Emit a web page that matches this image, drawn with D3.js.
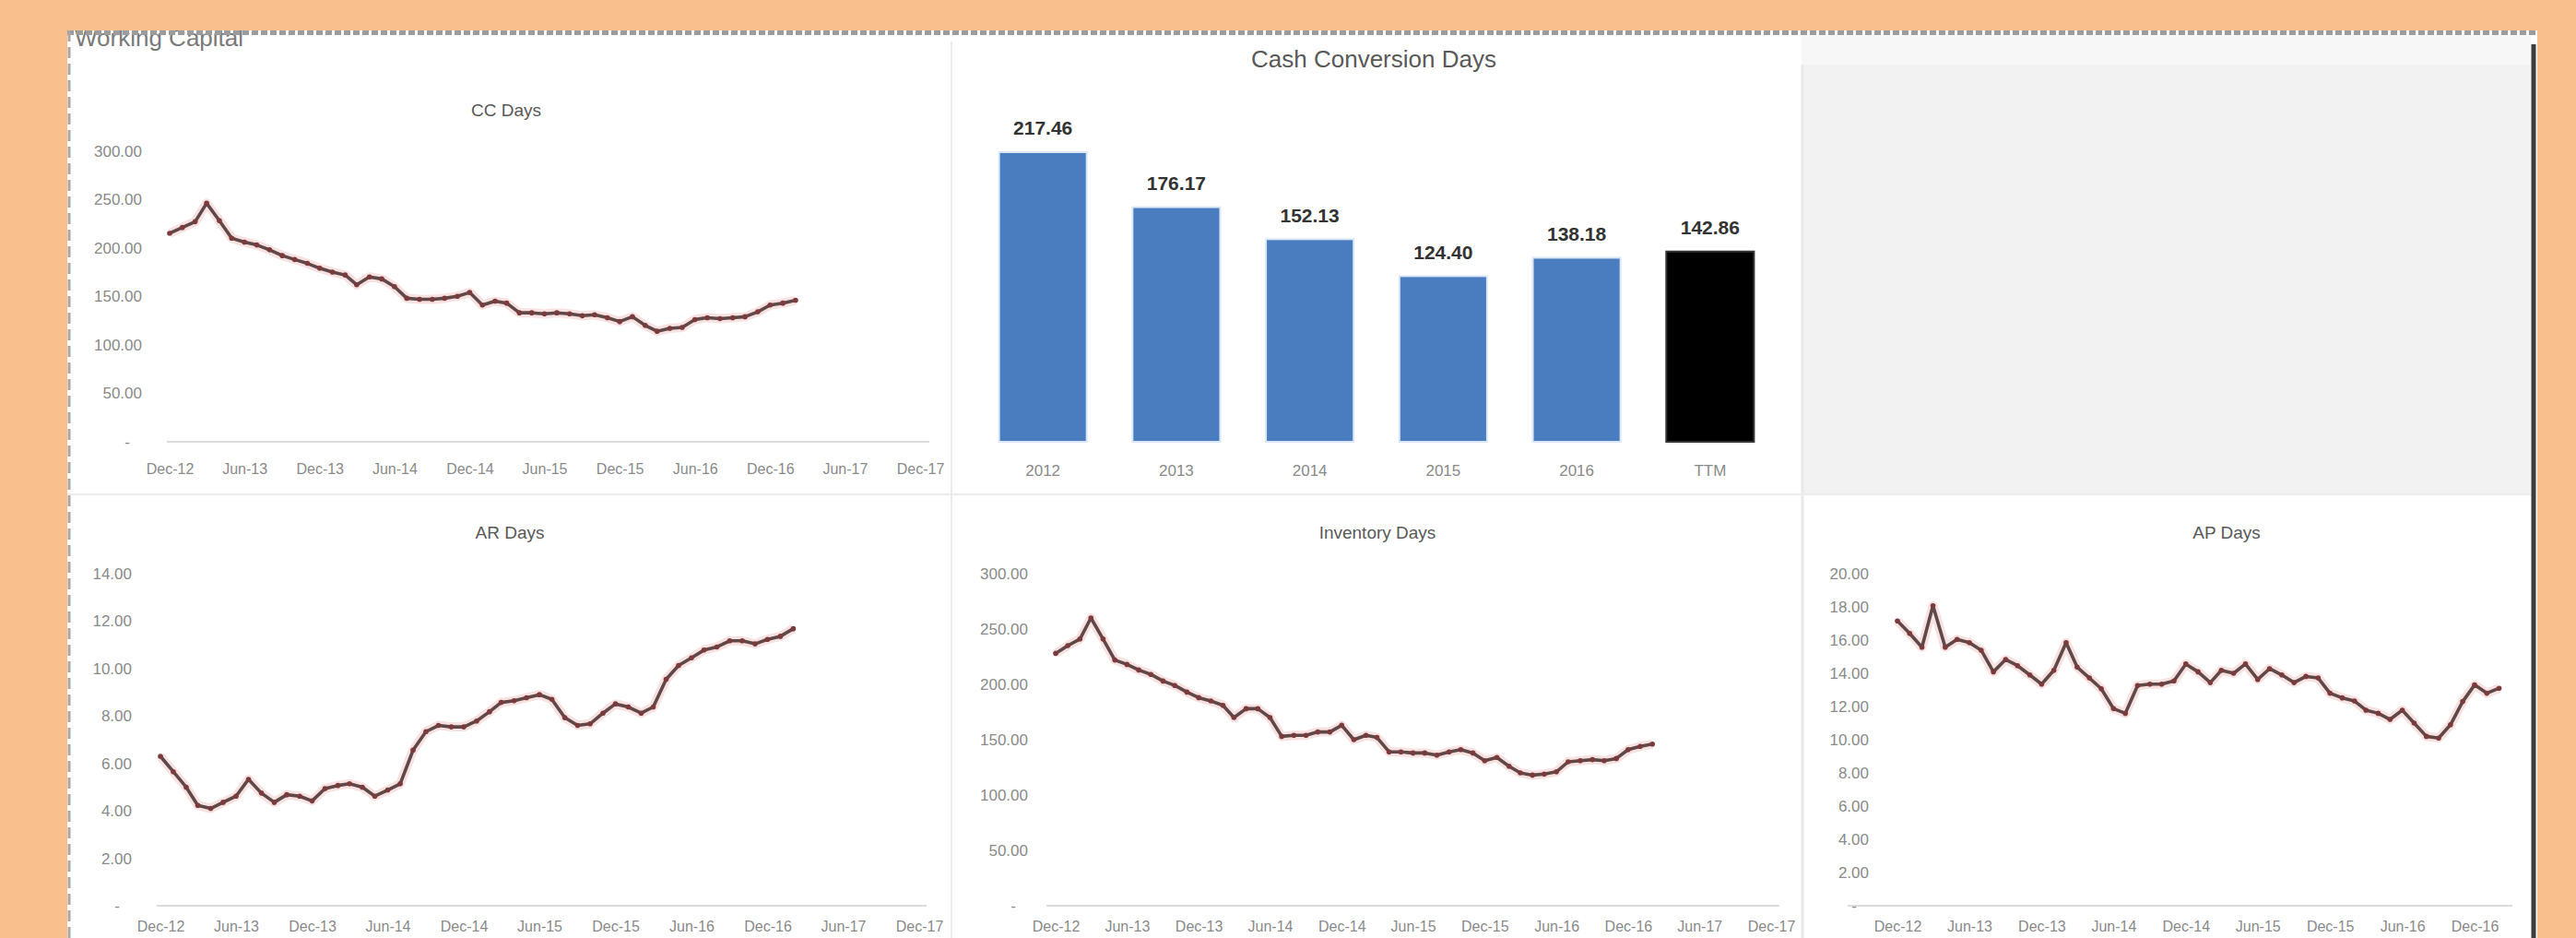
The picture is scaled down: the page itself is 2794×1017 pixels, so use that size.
<!DOCTYPE html>
<html>
<head>
<meta charset="utf-8">
<script src="https://cdn.jsdelivr.net/npm/d3@7"></script>
<style>
  body { margin: 0; background: #f9c08e; }
  svg { display: block; font-family: "Liberation Sans", Arial, sans-serif; }
  .tick text { fill: #8a8a8a; }
</style>
</head>
<body>
<svg id="dash" width="2794" height="1017"></svg>
<script>
// monthly points, Dec-12 .. Feb-17
const startMonth = new Date(2012, 11, 1);
const ccDays = [215, 221, 227, 246, 228, 210, 206, 203, 198, 192, 188, 184, 179, 175, 172, 162, 170, 168, 160, 148,
  147, 147, 148, 150, 154, 141, 145, 143, 133, 133, 132, 133, 132, 130, 131, 128, 124, 129, 120, 114,
  117, 118, 126, 128, 127, 128, 129, 134, 141, 143, 146];
const arDays = [6.30, 5.65, 5.00, 4.23, 4.10, 4.36, 4.62, 5.33, 4.75, 4.36, 4.68, 4.62, 4.42, 4.94, 5.07, 5.14, 5.00, 4.62, 4.88, 5.14,
  6.56, 7.34, 7.60, 7.54, 7.54, 7.79, 8.18, 8.57, 8.64, 8.77, 8.90, 8.70, 7.93, 7.60, 7.67, 8.12, 8.51, 8.38, 8.12, 8.38,
  9.55, 10.13, 10.45, 10.78, 10.91, 11.17, 11.17, 11.04, 11.23, 11.36, 11.68];
const invDays = [228, 235, 241, 260, 241, 222, 218, 213, 209, 203, 199, 193, 188, 185, 181, 170, 178, 178, 170, 153,
  154, 154, 157, 157, 163, 150, 154, 152, 139, 139, 138, 138, 136, 139, 141, 138, 131, 134, 126, 120,
  118, 119, 121, 130, 131, 132, 131, 133, 141, 144, 146];
const apDays = [17.15, 16.40, 15.57, 18.07, 15.57, 16.04, 15.85, 15.39, 14.09, 14.83, 14.46, 13.90, 13.35, 14.18, 15.85, 14.37, 13.72, 13.07, 11.87, 11.59,
  13.26, 13.35, 13.35, 13.54, 14.56, 14.09, 13.44, 14.18, 14.00, 14.56, 13.63, 14.28, 13.90, 13.44, 13.81, 13.72, 12.80, 12.52, 12.33, 11.78,
  11.59, 11.22, 11.78, 11.00, 10.20, 10.10, 10.90, 12.30, 13.30, 12.80, 13.10];

const barYears = ["2012", "2013", "2014", "2015", "2016", "TTM"];
const barValues = [217.46, 176.17, 152.13, 124.40, 138.18, 142.86];

const svg = d3.select("#dash");
const months = ccDays.map((_, i) => d3.timeMonth.offset(startMonth, i));

// ── dashboard frame ──────────────────────────────────────────
svg.append("rect").attr("x", 73).attr("y", 33).attr("width", 2679).attr("height", 990).attr("fill", "#fff");
svg.append("rect").attr("x", 1954).attr("y", 33).attr("width", 791).attr("height", 37).attr("fill", "#f7f7f7");
svg.append("rect").attr("x", 1954).attr("y", 70).attr("width", 791).attr("height", 466).attr("fill", "#f2f2f2");
svg.append("line").attr("x1", 1955).attr("x2", 1955).attr("y1", 70).attr("y2", 1017).attr("stroke", "#e8e8e8").attr("stroke-width", 3);
svg.append("line").attr("x1", 1032).attr("x2", 1032).attr("y1", 45).attr("y2", 1017).attr("stroke", "#ececec").attr("stroke-width", 2);
svg.append("line").attr("x1", 73).attr("x2", 2745).attr("y1", 536).attr("y2", 536).attr("stroke", "#ececec").attr("stroke-width", 2);

svg.append("text").attr("x", 81).attr("y", 50).attr("font-size", 26).attr("fill", "#7a7a7a").text("Working Capital");
svg.append("rect").attr("x", 73).attr("y", 26).attr("width", 2680).attr("height", 7).attr("fill", "#f9c08e");
svg.append("line").attr("x1", 73).attr("x2", 2752).attr("y1", 35.5).attr("y2", 35.5)
  .attr("stroke", "#9c9c9c").attr("stroke-width", 5).attr("stroke-dasharray", "7,3");
svg.append("line").attr("x1", 75).attr("x2", 75).attr("y1", 33).attr("y2", 1017)
  .attr("stroke", "#a8a8a8").attr("stroke-width", 3).attr("stroke-dasharray", "12,6");
svg.append("line").attr("x1", 2748).attr("x2", 2748).attr("y1", 48).attr("y2", 1017)
  .attr("stroke", "#3c3c3c").attr("stroke-width", 5);

// ── line charts ──────────────────────────────────────────────
function drawLine(cfg) {
  const g = svg.append("g");
  const x = d3.scaleTime().domain([startMonth, cfg.xEnd]).range(cfg.xRange);
  const y = d3.scaleLinear().domain([0, cfg.yMax]).range(cfg.yRange);

  g.append("text").attr("x", cfg.title[0]).attr("y", cfg.title[1]).attr("text-anchor", "middle")
    .attr("dominant-baseline", "central").attr("font-size", 19).attr("fill", "#595959").text(cfg.name);

  const yAxis = g.append("g").attr("transform", `translate(${cfg.yLabelX},0)`)
    .call(d3.axisLeft(y).tickValues(d3.range(0, cfg.yMax + 1e-6, cfg.yStep)).tickSize(0).tickPadding(0)
      .tickFormat((d) => (d === 0 ? "-" : d3.format(".2f")(d))));
  yAxis.select(".domain").remove();
  yAxis.selectAll("text").attr("font-size", 17).attr("dx", (d) => (d === 0 ? -13 : 0));

  g.append("line").attr("x1", cfg.axisLine[0]).attr("x2", cfg.axisLine[1])
    .attr("y1", cfg.yRange[0]).attr("y2", cfg.yRange[0]).attr("stroke", "#dcdcdc").attr("stroke-width", 2);

  // Dec / Jun ticks
  const ticks = d3.range(0, d3.timeMonth.count(startMonth, cfg.xEnd) + 1, 6).map((k) => d3.timeMonth.offset(startMonth, k));
  const xAxis = g.append("g").attr("transform", `translate(0,${cfg.yRange[0]})`)
    .call(d3.axisBottom(x).tickValues(ticks).tickSize(0).tickFormat(d3.timeFormat("%b-%y")));
  xAxis.select(".domain").remove();
  xAxis.selectAll("text").attr("font-size", 16).attr("y", cfg.xLabelY - cfg.yRange[0]).attr("dy", "0.35em");

  const line = d3.line().x((d, i) => x(months[i])).y((d) => y(d));
  g.append("path").datum(cfg.values).attr("d", line).attr("fill", "none")
    .attr("stroke", "#f3c9c9").attr("stroke-width", 10).attr("stroke-linejoin", "round").attr("opacity", 0.55);
  g.append("path").datum(cfg.values).attr("d", line).attr("fill", "none")
    .attr("stroke", "#5e4848").attr("stroke-width", 3.6).attr("stroke-linejoin", "round");
  g.selectAll("circle").data(cfg.values).join("circle")
    .attr("cx", (d, i) => x(months[i])).attr("cy", (d) => y(d)).attr("r", 2.8).attr("fill", "#7b3b3d");
}

drawLine({ name: "CC Days", values: ccDays, title: [549, 119], yMax: 300, yStep: 50, yRange: [479, 163.6],
  yLabelX: 154, xEnd: new Date(2017, 11, 1), xRange: [184, 998], axisLine: [181, 1008], xLabelY: 508 });
drawLine({ name: "AR Days", values: arDays, title: [553, 577], yMax: 14, yStep: 2, yRange: [982, 622],
  yLabelX: 143, xEnd: new Date(2017, 11, 1), xRange: [174, 997], axisLine: [170, 1005], xLabelY: 1004 });
drawLine({ name: "Inventory Days", values: invDays, title: [1494, 577], yMax: 300, yStep: 50, yRange: [982, 622],
  yLabelX: 1115, xEnd: new Date(2017, 11, 1), xRange: [1145, 1921], axisLine: [1135, 1930], xLabelY: 1004 });
drawLine({ name: "AP Days", values: apDays, title: [2415, 577], yMax: 20, yStep: 2, yRange: [982, 622],
  yLabelX: 2027, xEnd: new Date(2016, 11, 1), xRange: [2058, 2684], axisLine: [2004, 2725], xLabelY: 1004 });

// ── bar chart ────────────────────────────────────────────────
const bg = svg.append("g");
const bx = d3.scaleBand().domain(barYears).range([1059, 1927]).paddingInner(0.343).paddingOuter(0.17);
const by = d3.scaleLinear().domain([0, 250]).range([479, 118]);

bg.append("text").attr("x", 1490).attr("y", 64).attr("text-anchor", "middle").attr("dominant-baseline", "central")
  .attr("font-size", 26).attr("fill", "#595959").text("Cash Conversion Days");

bg.selectAll("rect.bar").data(barValues).join("rect").attr("class", "bar")
  .attr("x", (d, i) => bx(barYears[i])).attr("width", bx.bandwidth())
  .attr("y", (d) => by(d)).attr("height", (d) => by(0) - by(d))
  .attr("fill", (d, i) => (barYears[i] === "TTM" ? "#000" : "#4a7cc0"))
  .attr("stroke", (d, i) => (barYears[i] === "TTM" ? "#333" : "#dbe7f7")).attr("stroke-width", 2);

bg.selectAll("text.val").data(barValues).join("text").attr("class", "val")
  .attr("x", (d, i) => bx(barYears[i]) + bx.bandwidth() / 2).attr("y", (d) => by(d) - 26)
  .attr("text-anchor", "middle").attr("dominant-baseline", "central")
  .attr("font-size", 21).attr("font-weight", "bold").attr("fill", "#333").text((d) => d3.format(".2f")(d));

const bAxis = bg.append("g").attr("transform", "translate(0,479)").call(d3.axisBottom(bx).tickSize(0));
bAxis.select(".domain").remove();
bAxis.selectAll("text").attr("font-size", 17).attr("y", 31).attr("dy", "0.35em");
</script>
</body>
</html>
